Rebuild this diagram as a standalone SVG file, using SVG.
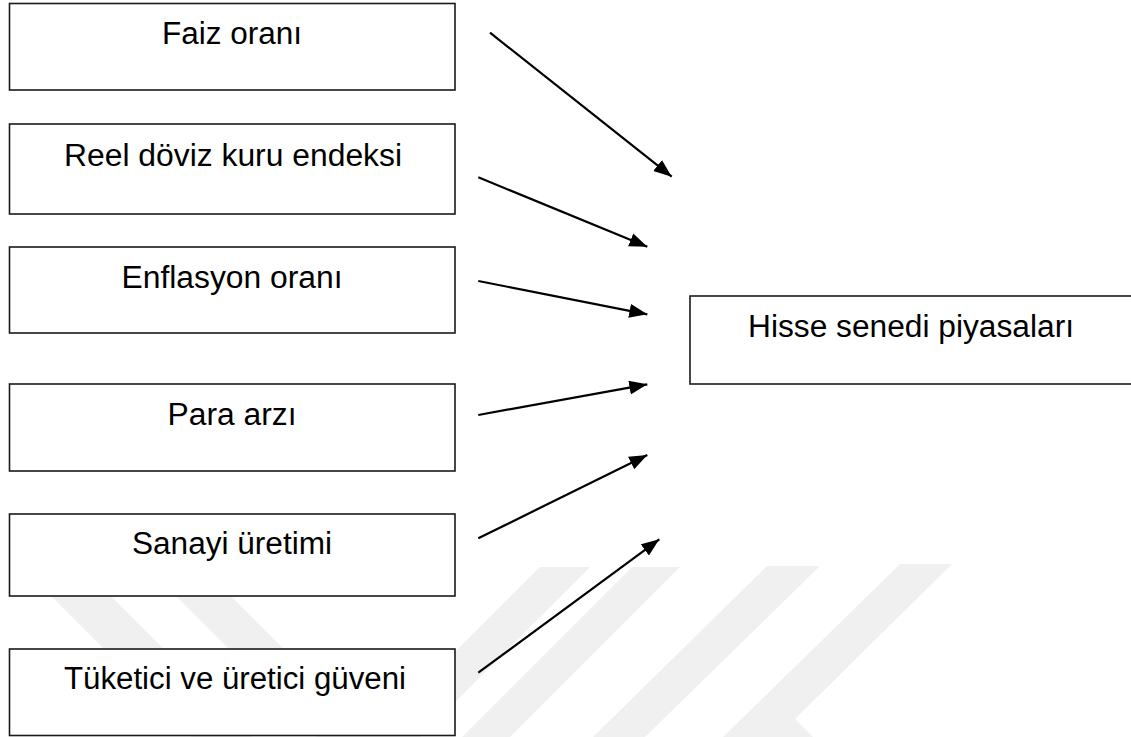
<svg xmlns="http://www.w3.org/2000/svg" width="1131" height="737" viewBox="0 0 1131 737">
  <style>
    .box { fill: #ffffff; stroke: #1a1a1a; stroke-width: 1.6; }
    .lbl { font-family: "Liberation Sans", Arial, sans-serif; font-size: 31px; fill: #000000; text-anchor: middle; }
    .wm { fill: #f0f0f0; }
    .conn line { stroke: #000000; stroke-width: 2.2; marker-end: url(#arrow); }
  </style>
  <defs>
    <marker id="arrow" markerUnits="userSpaceOnUse" markerWidth="19" markerHeight="15" refX="18" refY="7" orient="auto">
      <path d="M0,0 L18,7 L0,14 z" fill="#000000"/>
    </marker>
  </defs>
  <rect x="0" y="0" width="1131" height="737" fill="#ffffff"/>
  <g id="watermark">
    <polygon class="wm" points="15,560 75,560 252,737 192,737"/>
    <polygon class="wm" points="140,560 195,560 372,737 317,737"/>
    <polygon class="wm" points="540,567 590,567 420,737 370,737"/>
    <polygon class="wm" points="632,567 680,567 510,737 462,737"/>
    <polygon class="wm" points="767,566 820,566 645,737 593,737"/>
    <polygon class="wm" points="900,564 952,564 795,719 813,737 723,737"/>
  </g>
  <g id="faiz">
    <rect class="box" x="9.5" y="3.5" width="445.5" height="86.5"/>
    <text class="lbl" x="232" y="44" textLength="140" lengthAdjust="spacingAndGlyphs">Faiz oranı</text>
  </g>
  <g id="reel">
    <rect class="box" x="9.5" y="124" width="445.5" height="90"/>
    <text class="lbl" x="233" y="166" textLength="338" lengthAdjust="spacingAndGlyphs">Reel döviz kuru endeksi</text>
  </g>
  <g id="enflasyon">
    <rect class="box" x="9.5" y="247" width="445.5" height="86"/>
    <text class="lbl" x="232" y="288" textLength="221" lengthAdjust="spacingAndGlyphs">Enflasyon oranı</text>
  </g>
  <g id="para">
    <rect class="box" x="9.5" y="384" width="445.5" height="87"/>
    <text class="lbl" x="232" y="425" textLength="129" lengthAdjust="spacingAndGlyphs">Para arzı</text>
  </g>
  <g id="sanayi">
    <rect class="box" x="9.5" y="514" width="445.5" height="82"/>
    <text class="lbl" x="232" y="554" textLength="200" lengthAdjust="spacingAndGlyphs">Sanayi üretimi</text>
  </g>
  <g id="tuketici">
    <rect class="box" x="9.5" y="649" width="445.5" height="86.5"/>
    <text class="lbl" x="235" y="689" textLength="342" lengthAdjust="spacingAndGlyphs">Tüketici ve üretici güveni</text>
  </g>
  <g id="hisse">
    <rect class="box" x="690" y="296" width="460" height="88"/>
    <text class="lbl" x="911" y="337" textLength="326" lengthAdjust="spacingAndGlyphs">Hisse senedi piyasaları</text>
  </g>
  <g id="connectors" class="conn">
    <line x1="490" y1="32.7" x2="671.7" y2="176.7"/>
    <line x1="478.3" y1="177.3" x2="647.3" y2="246.7"/>
    <line x1="478.3" y1="281" x2="647.3" y2="314.3"/>
    <line x1="478.3" y1="415" x2="647.3" y2="384.3"/>
    <line x1="478.3" y1="538.3" x2="647.3" y2="455"/>
    <line x1="478.3" y1="672.7" x2="659.3" y2="539.3"/>
  </g>
</svg>
